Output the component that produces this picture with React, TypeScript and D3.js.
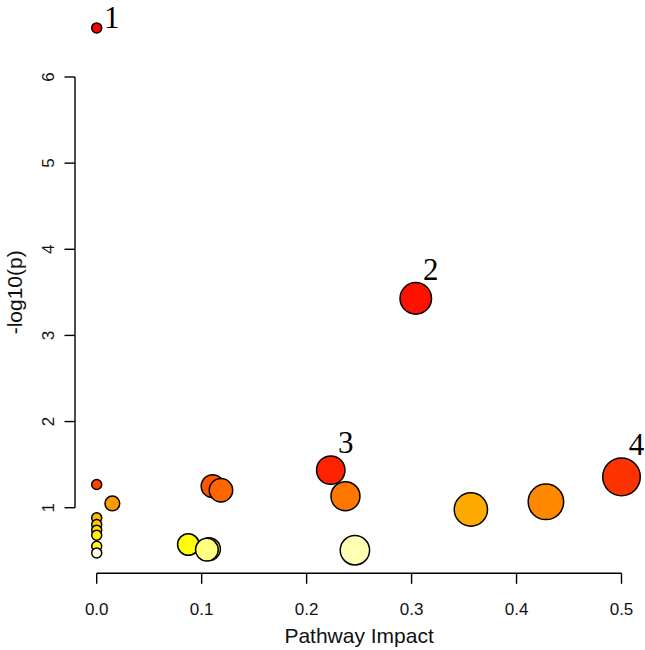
import React, { useEffect } from "react";
import * as d3 from "d3";

// Pathway impact (x) and -log10(p) (y), ordered by significance (drawing order)
const pathwayImpact = [0, 0.304, 0.223, 0.5, 0, 0.1105, 0.1184, 0.237, 0.428, 0.0149, 0.3565, 0, 0, 0, 0, 0.0873, 0, 0.107, 0.105, 0.246, 0];
const negLogP = [6.57, 3.43, 1.436, 1.358, 1.27, 1.25, 1.203, 1.134, 1.068, 1.049, 0.979, 0.882, 0.805, 0.739, 0.681, 0.573, 0.553, 0.52, 0.513, 0.506, 0.475];
const pointLabels = ["1", "2", "3", "4"];
const xTicks = [0, 0.1, 0.2, 0.3, 0.4, 0.5];
const yTicks = [1, 2, 3, 4, 5, 6];
const xTitle = "Pathway Impact";
const yTitle = "-log10(p)";

const W = 645;
const H = 650;

function toHex(r: number, g: number, b: number) {
  return "#" + [r, g, b].map((v) => Math.round(v).toString(16).padStart(2, "0")).join("");
}

// R's heat.colors(n)
function heatColors(n: number): string[] {
  const j = Math.floor(n / 4);
  const i = n - j;
  const out: string[] = [];
  for (let k = 0; k < i; k++) {
    const h = i === 1 ? 0 : ((1 / 6) * k) / (i - 1);
    out.push(toHex(255, h * 6 * 255, 0));
  }
  for (let k = 0; k < j; k++) {
    const from = 1 - 1 / (2 * j);
    const to = 1 / (2 * j);
    const s = j === 1 ? from : from + ((to - from) * k) / (j - 1);
    out.push(toHex(255, 255, (1 - s) * 255));
  }
  return out;
}

export default function App() {
  useEffect(() => {
    document.body.style.margin = "0";
  }, []);

  const x = d3.scaleLinear().domain([0, 0.5]).range([96.7, 621.5]);
  const y = d3.scaleLinear().domain([1, 6]).range([507.7, 77]);
  const r = d3.scaleSqrt().domain([0, 0.5]).range([5, 18.8]);

  const n = negLogP.length;
  const order = d3.range(n).sort((a, b) => negLogP[b] - negLogP[a]);
  const cols = heatColors(n);
  const colorOf: string[] = new Array(n);
  order.forEach((idx, rank) => (colorOf[idx] = cols[rank]));

  const xAxisY = 573.3;
  const yAxisX = 75;
  const tick = 10.5;
  const sans = "'Liberation Sans', Arial, Helvetica, sans-serif";
  const serif = "'Liberation Serif', 'Times New Roman', serif";

  return (
    <svg width={W} height={H} style={{ display: "block", position: "absolute", left: 0, top: 0, background: "#fff" }}>
      {/* axes */}
      <g stroke="#000" strokeWidth={1.4} fill="none">
        <line x1={x(xTicks[0])} x2={x(xTicks[xTicks.length - 1])} y1={xAxisY} y2={xAxisY} />
        {xTicks.map((t) => (
          <line key={"xt" + t} x1={x(t)} x2={x(t)} y1={xAxisY} y2={xAxisY + tick} />
        ))}
        <line x1={yAxisX} x2={yAxisX} y1={y(yTicks[0])} y2={y(yTicks[yTicks.length - 1])} />
        {yTicks.map((t) => (
          <line key={"yt" + t} x1={yAxisX - tick} x2={yAxisX} y1={y(t)} y2={y(t)} />
        ))}
      </g>
      {xTicks.map((t) => (
        <text key={"xl" + t} x={x(t)} y={615} textAnchor="middle" fontFamily={sans} fontSize={17} fill="#111">
          {d3.format(".1f")(t)}
        </text>
      ))}
      {yTicks.map((t) => (
        <text
          key={"yl" + t}
          transform={`translate(53.5,${y(t)}) rotate(-90)`}
          textAnchor="middle"
          fontFamily={sans}
          fontSize={17}
          fill="#111"
        >
          {String(t)}
        </text>
      ))}
      <text x={(x(0) + x(0.5)) / 2} y={643} textAnchor="middle" fontFamily={sans} fontSize={21} fill="#111">
        {xTitle}
      </text>
      <text
        transform={`translate(22,${(y(1) + y(6)) / 2}) rotate(-90)`}
        textAnchor="middle"
        fontFamily={sans}
        fontSize={21}
        fill="#111"
      >
        {yTitle}
      </text>

      {/* points */}
      {order.map((i) => (
        <circle
          key={"p" + i}
          cx={x(pathwayImpact[i])}
          cy={y(negLogP[i])}
          r={r(pathwayImpact[i])}
          fill={colorOf[i]}
          stroke="#000"
          strokeWidth={1.5}
        />
      ))}

      {/* labels */}
      {pointLabels.map((lab, i) => {
        const cx = x(pathwayImpact[i]);
        const cy = y(negLogP[i]);
        const rr = r(pathwayImpact[i]);
        return (
          <text
            key={"lab" + i}
            x={cx + 15}
            y={Math.max(cy - rr - 3, 28)}
            textAnchor="middle"
            fontFamily={serif}
            fontSize={31}
            fill="#000"
          >
            {lab}
          </text>
        );
      })}
    </svg>
  );
}
